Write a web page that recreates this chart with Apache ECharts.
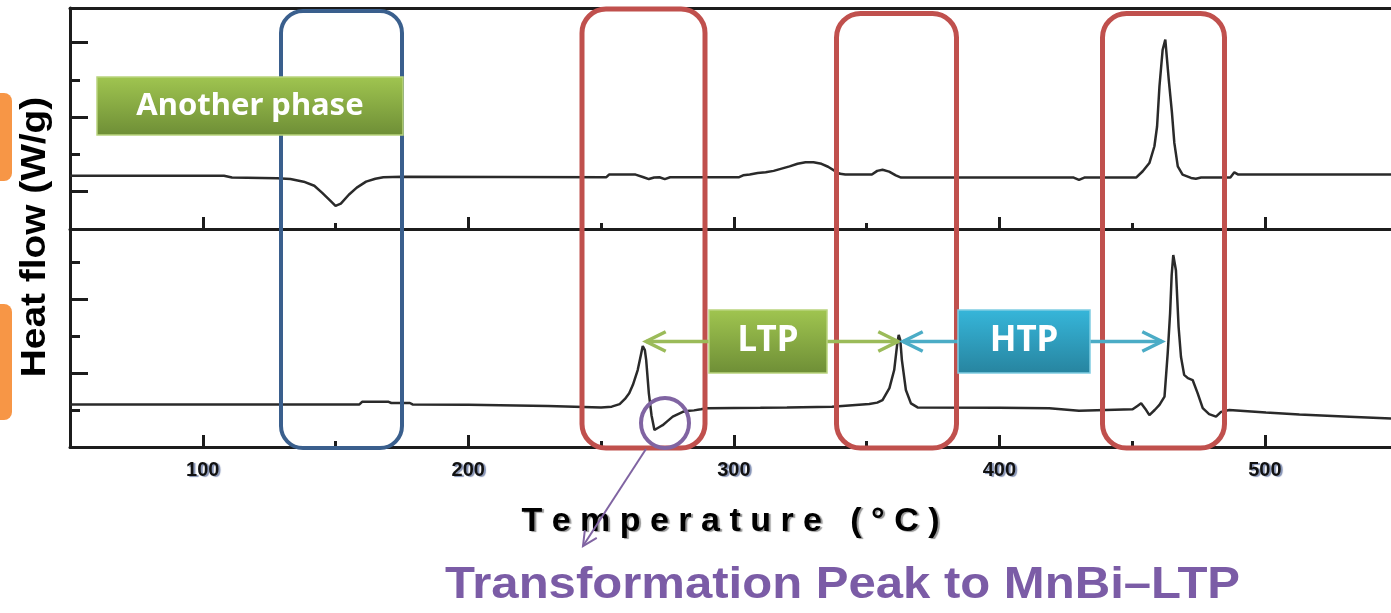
<!DOCTYPE html>
<html><head><meta charset="utf-8">
<script src="https://cdn.jsdelivr.net/npm/echarts@6/dist/echarts.min.js"></script>
<style>html,body{margin:0;padding:0;background:#fff}#c{width:1391px;height:613px}</style>
</head><body><div id="c"></div>
<script>
// ---- data (temperature in °C, heat flow in arbitrary W/g units of each panel) ----
const tempTop = [50,108,111,128,133,138,142,145,148,150,152,155,158,161.5,165,168,175,252,253,263,266,268,270,272,274,276,302,303.5,306,309,312,315,318,321,324,327,330,333,335.5,338,340,342,352,354,356,358.5,361,363,428,430,432,451.5,454,456.5,458.4,459.4,460.3,461.5,462.5,463.8,465,465.9,467.2,469,472.2,474,476,487,488.5,490,547.5];
const flowTop = [1.43,1.43,1.38,1.36,1.34,1.27,1.16,0.97,0.76,0.62,0.68,0.92,1.11,1.27,1.35,1.39,1.40,1.39,1.46,1.46,1.39,1.34,1.38,1.39,1.34,1.39,1.39,1.44,1.46,1.50,1.52,1.56,1.62,1.68,1.75,1.79,1.79,1.75,1.67,1.56,1.48,1.46,1.46,1.56,1.59,1.54,1.44,1.38,1.38,1.32,1.38,1.38,1.55,1.77,2.22,2.75,3.83,4.81,5.08,4.01,3.12,2.31,1.68,1.46,1.37,1.35,1.38,1.38,1.52,1.46,1.46];
const tempBottom = [50,159,160,170,171,178,179,200,230,250,254,257,259,260.6,262,263.8,265,265.7,266.5,267,268,269,270.1,272,273.2,275,277,279,280.8,283.3,285,287.6,290,310,320,337,351,354,356,358.6,360.4,361.5,362.1,362.7,363.3,364.8,366.7,369.2,400,418.8,430,450.2,452,453.4,455,456.5,458.5,460.3,462.2,463.4,464.3,464.9,465.5,466.5,467.5,468.4,469.6,471,472.8,474.7,476.6,479,481.6,483.5,486.6,500.4,513,531.8,547.5];
const flowBottom = [1.15,1.15,1.22,1.22,1.19,1.19,1.15,1.14,1.11,1.07,1.09,1.16,1.30,1.45,1.68,2.08,2.49,2.73,2.62,2.35,1.45,0.86,0.46,0.54,0.59,0.70,0.82,0.89,0.95,0.98,0.99,1.02,1.05,1.06,1.07,1.09,1.16,1.20,1.27,1.59,2.08,2.76,3.03,2.89,2.35,1.54,1.18,1.07,1.06,1.05,0.98,1.02,1.11,1.18,1.03,0.86,1.00,1.14,1.36,2.53,3.61,4.65,5.19,4.78,3.25,2.44,1.95,1.86,1.81,1.45,1.05,0.89,0.82,0.95,1.00,0.93,0.88,0.82,0.77];
const xMajorTicks = [100,200,300,400,500];
const xMinorTicks = [150,250,350,450];
const yTopMajor = [1,3,5];
const yTopMinor = [2,4];
const yBottomMajor = [2,4];
const yBottomMinor = [1,3,5];
const xTitle = 'T e m p e r a t u r e   ( ° C )';
const yTitle = 'Heat flow (W/g)';
const boxLabels = ['Another phase','LTP','HTP'];
const noteText = 'Transformation Peak to MnBi\u2013LTP';

const AX = '#1c1c1c';
const X_MIN = 50, X_MAX = 547.5;
const chart = echarts.init(document.getElementById('c'), null, {renderer:'canvas'});

function xa(grid, opts){ return Object.assign({type:'value', gridIndex:grid, min:X_MIN, max:X_MAX, splitLine:{show:false},
  axisLabel:{show:false}, axisTick:{show:false}, axisLine:{show:false, onZero:false, lineStyle:{color:AX, width:3}}}, opts); }
function ya(grid, max, opts){ return Object.assign({type:'value', gridIndex:grid, position:'left', min:0, max:max, splitLine:{show:false},
  axisLabel:{show:false}, axisTick:{show:false}, axisLine:{show:false, onZero:false, lineStyle:{color:AX, width:3}}}, opts); }

const tickStyle = (len, w, vals) => ({show:true, inside:true, length:len, customValues:vals, lineStyle:{color:AX, width:w}});

function arrow(x1,y1,x2,y2,color,lw,head){
  const ang = Math.atan2(y2-y1, x2-x1);
  const a1 = ang + Math.PI - 0.46, a2 = ang + Math.PI + 0.46;
  return [
    {type:'line', z:30, shape:{x1,y1,x2,y2}, style:{stroke:color, lineWidth:lw}},
    {type:'polyline', z:30, shape:{points:[[x2+head*Math.cos(a1), y2+head*Math.sin(a1)],[x2,y2],[x2+head*Math.cos(a2), y2+head*Math.sin(a2)]]},
      style:{stroke:color, lineWidth:lw, fill:'none'}}
  ];
}
function rbox(x,y,w,h,r,color,lw){ return {type:'rect', z:20, shape:{x,y,width:w,height:h,r}, style:{fill:'none', stroke:color, lineWidth:lw}}; }
function grad(c1,c2){ return new echarts.graphic.LinearGradient(0,0,0,1,[{offset:0,color:c1},{offset:1,color:c2}]); }
function label(x,y,w,h,c1,c2,border,text,fs,tx){
  return [
    {type:'rect', z:40, shape:{x,y,width:w,height:h}, style:{fill:grad(c1,c2), stroke:border, lineWidth:1.5}},
    {type:'text', z:41, x:tx, y:y+h/2, style:{text, fill:'#fff', fontSize:fs, fontWeight:'bold', fontFamily:'"Noto Sans", sans-serif', align:'center', verticalAlign:'middle'}}
  ];
}

const RED = '#C0504D', BLUE = '#3A5F8D', GREEN = '#9BBB59', CYAN = '#4BACC6', PURPLE = '#8064A2';

const graphics = [].concat(
  [{type:'rect', z:5, shape:{x:-20,y:93,width:32,height:88,r:8}, style:{fill:'#F79646'}},
   {type:'rect', z:5, shape:{x:-20,y:304,width:32,height:116,r:8}, style:{fill:'#F79646'}}],
  [rbox(281,11,121,437,22,BLUE,4),
   rbox(582,9,123,439,24,RED,5),
   rbox(836.5,13.5,120,434.5,24,RED,5),
   rbox(1102.5,13.5,122,434.5,24,RED,5)],
  label(97,77,306,58,'#A0C550','#6E8E36','#B9D47E',boxLabels[0],31,250),
  label(709,310,118,63,'#A0C550','#6E8E36','#B9D47E',boxLabels[1],35,768),
  label(958,310,132,63,'#36B6DA','#27849F','#7FCDE2',boxLabels[2],35,1024),
  arrow(709,341.5,646,341.5,GREEN,3.5,22),
  arrow(826,341.5,898,341.5,GREEN,3.5,22),
  arrow(958,341.5,903,341.5,CYAN,3.5,22),
  arrow(1090,341.5,1162,341.5,CYAN,3.5,22),
  [{type:'ellipse', z:35, shape:{cx:665,cy:423,rx:24,ry:25}, style:{fill:'none', stroke:PURPLE, lineWidth:4}}],
  arrow(646,449,583,546,PURPLE,2,16),
  [{type:'text', z:30, x:445, y:586, scaleX:1.115, style:{text:noteText, fill:'#7B5CA6', fontSize:44, fontWeight:'bold', fontFamily:'"Liberation Sans", Arial, sans-serif', align:'left', verticalAlign:'middle'}},
   {type:'text', z:30, x:35, y:237, rotation:Math.PI/2, scaleX:1.11, style:{text:yTitle, fill:'#000', fontSize:35, fontWeight:'bold', fontFamily:'"Liberation Sans", Arial, sans-serif', align:'center', verticalAlign:'middle'}}]
);

const option = {
  animation:false,
  backgroundColor:'#fff',
  grid:[
    {left:70, top:8, right:0, height:221},
    {left:70, top:228, right:0, height:219}
  ],
  xAxis:[
    xa(0,{position:'bottom', axisLine:{show:true,onZero:false,lineStyle:{color:AX,width:3}}, axisTick:tickStyle(12,3,xMajorTicks)}),
    xa(0,{position:'bottom', axisTick:tickStyle(6,3,xMinorTicks)}),
    xa(0,{position:'top', axisLine:{show:true,onZero:false,lineStyle:{color:AX,width:3}}}),
    xa(1,{position:'bottom', axisLine:{show:true,onZero:false,lineStyle:{color:AX,width:3}}, axisTick:tickStyle(12,3,xMajorTicks),
      axisLabel:{show:true, customValues:xMajorTicks, margin:13, color:'#111', fontSize:20, fontWeight:'bold', fontFamily:'"Liberation Sans", Arial, sans-serif',
        textShadowColor:'rgba(80,100,150,0.7)', textShadowOffsetX:2, textShadowOffsetY:1, textShadowBlur:1},
      name:xTitle, nameLocation:'middle', nameGap:58,
      nameTextStyle:{fontSize:34, fontWeight:'bold', color:'#000', fontFamily:'"Liberation Sans", Arial, sans-serif', textShadowColor:'rgba(80,80,80,0.6)', textShadowOffsetX:2, textShadowOffsetY:1, textShadowBlur:1}}),
    xa(1,{position:'bottom', axisTick:tickStyle(6,3,xMinorTicks)})
  ],
  yAxis:[
    ya(0,5.93,{axisLine:{show:true,onZero:false,lineStyle:{color:AX,width:3}}, axisTick:tickStyle(18,3,yTopMajor)}),
    ya(0,5.93,{axisTick:tickStyle(10,3,yTopMinor)}),
    ya(1,5.92,{axisLine:{show:true,onZero:false,lineStyle:{color:AX,width:3}}, axisTick:tickStyle(18,3,yBottomMajor)}),
    ya(1,5.92,{axisTick:tickStyle(10,3,yBottomMinor)})
  ],
  series:[
    {type:'line', xAxisIndex:0, yAxisIndex:0, showSymbol:false, symbol:'none', lineStyle:{color:'#2a2a2a', width:2.5}, z:10,
      data: tempTop.map((t,i)=>[t, flowTop[i]])},
    {type:'line', xAxisIndex:3, yAxisIndex:2, showSymbol:false, symbol:'none', lineStyle:{color:'#2a2a2a', width:2.5}, z:10,
      data: tempBottom.map((t,i)=>[t, flowBottom[i]])}
  ],
  graphic: graphics
};
chart.setOption(option);
</script></body></html>
